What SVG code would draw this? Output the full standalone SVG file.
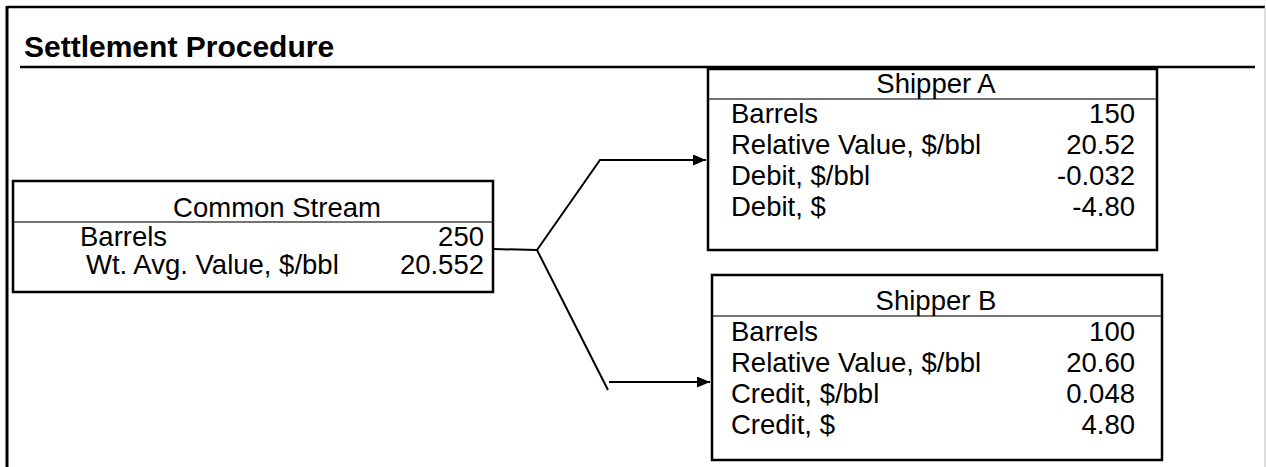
<svg xmlns="http://www.w3.org/2000/svg" width="1266" height="467" viewBox="0 0 1266 467">
<style>
text{font-family:"Liberation Sans",Arial,sans-serif;fill:#000;}
.t{font-size:27.5px;}
.r{text-anchor:end;}
.c{text-anchor:middle;}
.title{font-size:30px;font-weight:bold;}
.box{fill:#fff;stroke:#000;stroke-width:2.5;}
.div{stroke:#444;stroke-width:1.5;}
.conn{fill:none;stroke:#000;stroke-width:2;}
</style>
<defs>
<marker id="ah" viewBox="0 0 13 11" refX="13" refY="5.5" markerWidth="13" markerHeight="11" markerUnits="userSpaceOnUse" orient="auto">
<path d="M0,0 L13,5.5 L0,11 Z" fill="#000"/>
</marker>
</defs>
<rect width="1266" height="467" fill="#fff"/>
<g id="frame">
<line x1="7" y1="7" x2="1265" y2="7" stroke="#000" stroke-width="2.5"/>
<line x1="7" y1="6" x2="7" y2="467" stroke="#000" stroke-width="3"/>
<line x1="1265" y1="7" x2="1265" y2="467" stroke="#bbb" stroke-width="1"/>
<text class="title" x="24" y="57">Settlement Procedure</text>
<line x1="20" y1="67" x2="1255" y2="67" stroke="#000" stroke-width="2.5"/>
</g>
<g id="connectors">
<polyline class="conn" points="493,249 537,250"/>
<polyline class="conn" points="537,250 600,160 605,160"/>
<line class="conn" x1="600" y1="160" x2="706" y2="160" marker-end="url(#ah)"/>
<line class="conn" x1="537" y1="250" x2="608" y2="390"/>
<line class="conn" x1="609" y1="382" x2="710" y2="382" marker-end="url(#ah)"/>
</g>
<g id="common-stream">
<rect class="box" x="13" y="181" width="480" height="111"/>
<line class="div" x1="14" y1="222" x2="492" y2="222"/>
<text class="t c" x="277" y="217">Common Stream</text>
<text class="t" x="80" y="246">Barrels</text>
<text class="t r" x="484" y="246">250</text>
<text class="t" x="86" y="274">Wt. Avg. Value, $/bbl</text>
<text class="t r" x="484" y="274">20.552</text>
</g>
<g id="shipper-a">
<rect class="box" x="708" y="69" width="449" height="181"/>
<line class="div" x1="709" y1="99" x2="1156" y2="99"/>
<text class="t c" x="936" y="93">Shipper A</text>
<text class="t" x="731" y="123">Barrels</text>
<text class="t r" x="1135" y="123">150</text>
<text class="t" x="731" y="154">Relative Value, $/bbl</text>
<text class="t r" x="1135" y="154">20.52</text>
<text class="t" x="731" y="185">Debit, $/bbl</text>
<text class="t r" x="1135" y="185">-0.032</text>
<text class="t" x="731" y="216">Debit, $</text>
<text class="t r" x="1135" y="216">-4.80</text>
</g>
<g id="shipper-b">
<rect class="box" x="712" y="275" width="450" height="185"/>
<line class="div" x1="713" y1="316" x2="1161" y2="316"/>
<text class="t c" x="936" y="310">Shipper B</text>
<text class="t" x="731" y="341">Barrels</text>
<text class="t r" x="1135" y="341">100</text>
<text class="t" x="731" y="372">Relative Value, $/bbl</text>
<text class="t r" x="1135" y="372">20.60</text>
<text class="t" x="731" y="403">Credit, $/bbl</text>
<text class="t r" x="1135" y="403">0.048</text>
<text class="t" x="731" y="434">Credit, $</text>
<text class="t r" x="1135" y="434">4.80</text>
</g>
</svg>
